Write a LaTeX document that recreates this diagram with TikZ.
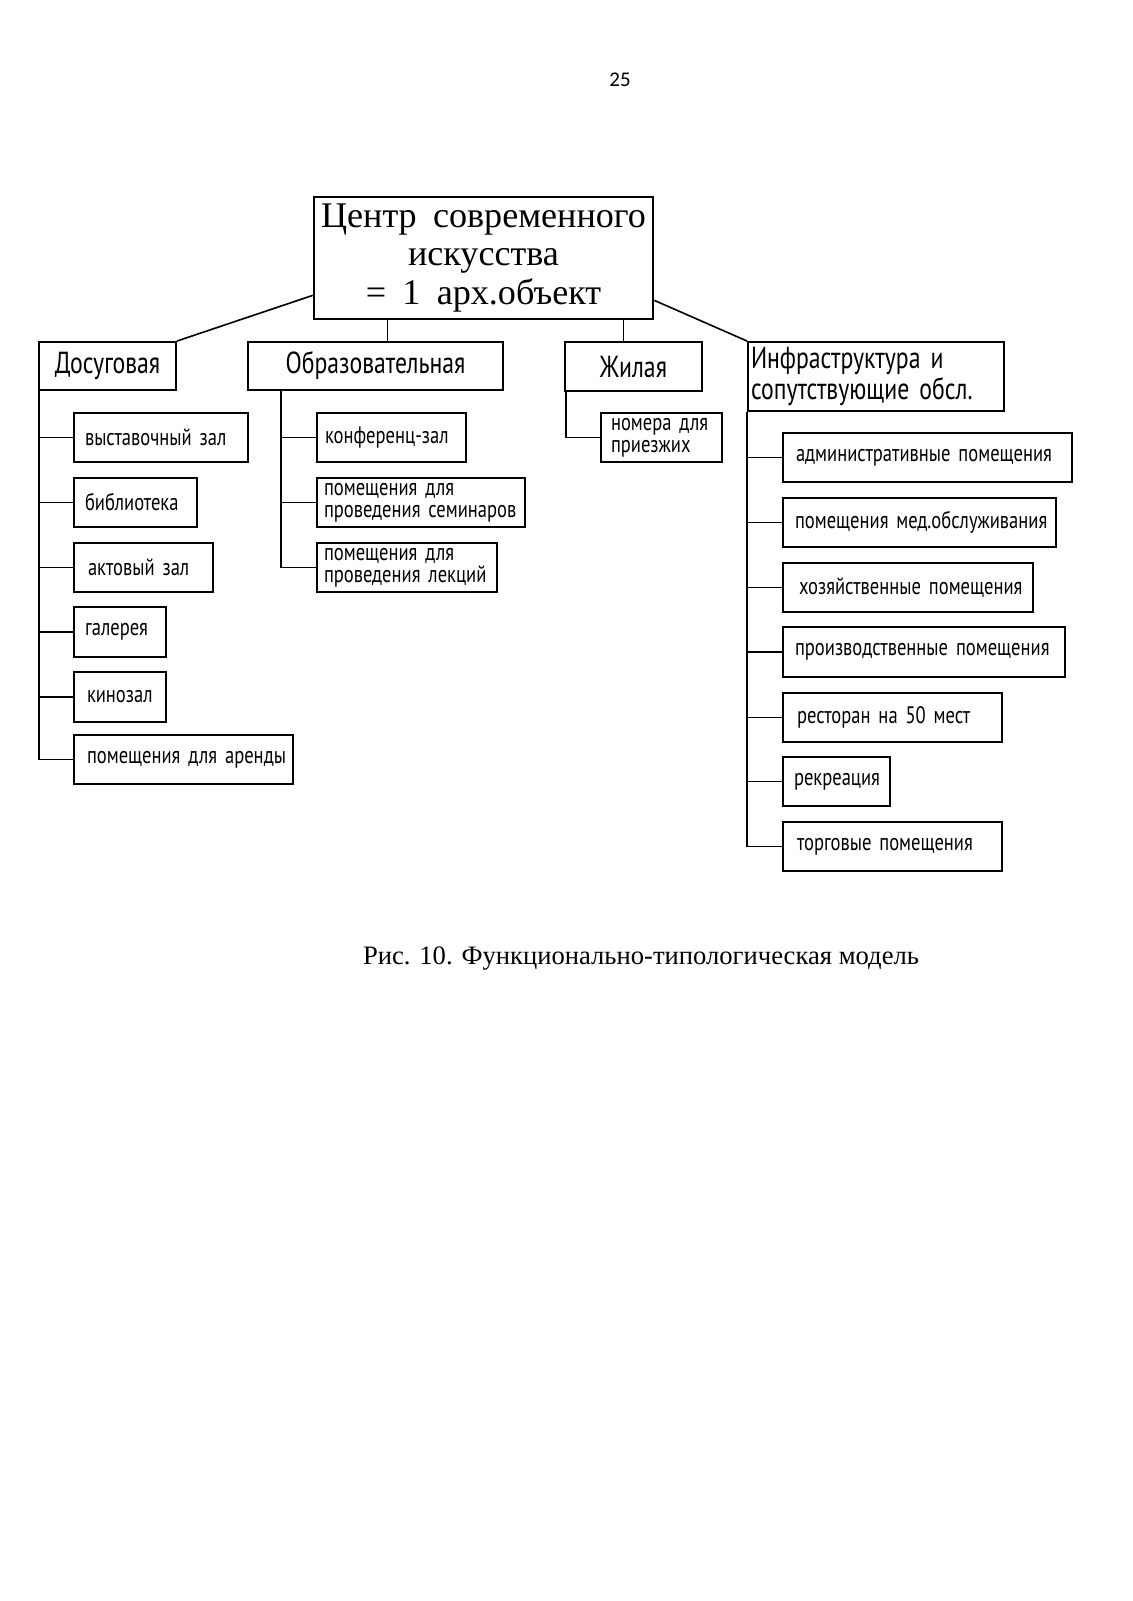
\documentclass[tikz,border=0pt]{standalone}
\usepackage{fontspec}
\setmainfont{Liberation Serif}
\newfontfamily\gost[FakeStretch=0.78,WordSpace=1.8]{PT Sans}
\newfontfamily\ctrf[WordSpace=1.8]{Liberation Serif}
\newfontfamily\pagenumfont{Carlito}
\usetikzlibrary{calc}
\def\upx{0.5259}
\tikzset{
  box/.style={draw, line width=1pt, inner sep=0pt, align=center},
  lbox/.style={box, text width=\bxT pt, align=left},
  itemf/.style={font=\gost\fontsize{12.5}{11.5}\selectfont},
  headf/.style={font=\gost\fontsize{16}{16}\selectfont},
  conn/.style={line width=0.85pt},
}
\newcommand\bx[8]{% name, x1, y1, x2, y2, pad, style, text
  \pgfmathsetmacro\bxW{(#4-#2)*\upx}%
  \pgfmathsetmacro\bxH{(#5-#3)*\upx}%
  \pgfmathsetmacro\bxT{(#4-#2-2*#6)*\upx}%
  \node[#7, minimum width=\bxW pt, minimum height=\bxH pt] (#1) at ({(#2+#4)/2},{(#3+#5)/2}) {#8};%
}
\begin{document}
\begin{tikzpicture}[x=0.5259pt, y=-0.5259pt]
\fill[white] (0,0) rectangle (1132,1601);
\useasboundingbox (0,0) rectangle (1132,1601);

\node[font=\pagenumfont\fontsize{11}{12}\selectfont] (pn) at (620,80) {25};

% center box
\bx{c}{314}{197}{653}{319}{0}{box, line width=1.4pt, font=\ctrf\fontsize{19}{20.5}\selectfont}{Центр современного\\искусства\\= 1 арх.объект}

% headers
\bx{dos}{39}{342}{176}{390}{0}{box, headf}{Досуговая}
\bx{obr}{248}{342}{503}{390}{0}{box, headf}{Образовательная}
\bx{zhil}{565}{342}{702}{391}{0}{box, headf}{Жилая}
\bx{inf}{748}{342}{1004}{411}{3}{lbox, headf}{Инфраструктура и\\сопутствующие обсл.}

% Досуговая
\bx{d1}{74}{413}{248}{462}{11}{lbox, itemf}{\mbox{выставочный зал}}
\bx{d2}{74}{478}{197}{527}{11}{lbox, itemf}{\mbox{библиотека}}
\bx{d3}{74}{543}{213}{592}{14}{lbox, itemf}{\mbox{актовый зал}}
\bx{d4}{74}{607}{166}{657}{11}{lbox, itemf}{\mbox{галерея}}
\bx{d5}{74}{672}{166}{722}{13}{lbox, itemf}{\mbox{кинозал}}
\bx{d6}{74}{735}{293}{784}{13}{lbox, itemf}{\mbox{помещения для аренды}}

% Образовательная
\bx{o1}{317}{413}{466}{462}{8}{lbox, itemf}{\mbox{конференц-зал}}
\bx{o2}{317}{478}{525}{527}{7}{lbox, itemf}{помещения для\\\mbox{проведения семинаров}}
\bx{o3}{317}{543}{497}{592}{7}{lbox, itemf}{помещения для\\\mbox{проведения лекций}}

% Жилая
\bx{z1}{601}{413}{722}{462}{10}{lbox, itemf}{номера для\\приезжих}

% Инфраструктура
\bx{i1}{783}{433}{1072}{482}{13}{lbox, itemf}{\mbox{административные помещения}}
\bx{i2}{783}{498}{1056}{547}{12}{lbox, itemf}{\mbox{помещения мед.обслуживания}}
\bx{i3}{783}{563}{1033}{612}{16}{lbox, itemf}{\mbox{хозяйственные помещения}}
\bx{i4}{783}{627}{1065}{677}{12}{lbox, itemf}{\mbox{производственные помещения}}
\bx{i5}{783}{693}{1002}{742}{14}{lbox, itemf}{\mbox{ресторан на 50 мест}}
\bx{i6}{783}{757}{890}{806}{11}{lbox, itemf}{\mbox{рекреация}}
\bx{i7}{783}{822}{1002}{871}{14}{lbox, itemf}{\mbox{торговые помещения}}

% connectors from center
\draw[conn] (dos.north east) -- ($(c.south west)!0.2!(c.north west)$);
\draw[conn] (inf.north west) -- ($(c.south east)!0.16!(c.north east)$);
\draw[conn] ($(c.south west)+(75,0)$) coordinate (t1) -- (t1 |- obr.north);
\draw[conn] ($(c.south east)+(-31,0)$) coordinate (t2) -- (t2 |- zhil.north);

% spines
\draw[conn] ($(dos.south west)+(1,0)$) coordinate (s1) |- (d6.west);
\foreach \k in {1,...,5} \draw[conn] (s1 |- d\k.west) -- (d\k.west);
\draw[conn] ($(obr.south west)+(34,0)$) coordinate (s2) |- (o3.west);
\foreach \k in {1,2} \draw[conn] (s2 |- o\k.west) -- (o\k.west);
\draw[conn] ($(zhil.south west)+(2,0)$) coordinate (s3) |- (z1.west);
\draw[conn] (inf.south west) coordinate (s4) |- (i7.west);
\foreach \k in {1,...,6} \draw[conn] (s4 |- i\k.west) -- (i\k.west);

% caption
\node[font=\fontsize{14}{16}\selectfont] (cap) at (641,959) {Рис. 10. Функционально-типологическая модель};
\end{tikzpicture}
\end{document}
